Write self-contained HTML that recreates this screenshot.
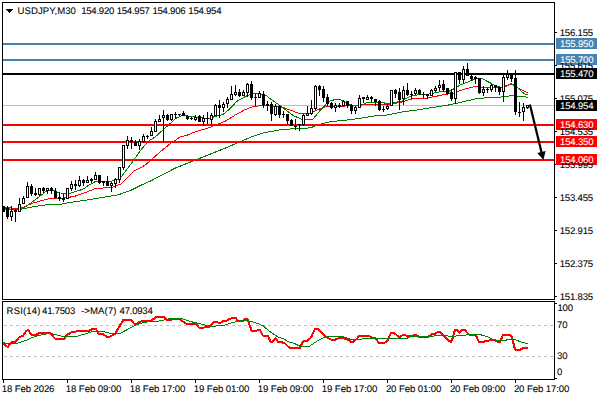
<!DOCTYPE html><html><head><meta charset="utf-8"><title>USDJPY M30</title>
<style>html,body{margin:0;padding:0;background:#fff}body{width:600px;height:400px;overflow:hidden;position:relative}
svg{position:absolute;left:0;top:0;display:block}
text{font-family:"Liberation Sans",Arial,sans-serif;font-size:9.6px;letter-spacing:-0.27px;fill:#000;stroke:#000;stroke-width:0.07px;text-rendering:geometricPrecision}
.w{fill:#fff;stroke:#fff}
</style></head><body>
<svg width="600" height="400" viewBox="0 0 600 400">
<rect width="600" height="400" fill="#fff"/>
<g shape-rendering="crispEdges">
<rect x="3" y="105" width="552" height="1" fill="#c0c0c0"/>
</g>
<g shape-rendering="crispEdges" stroke="#c0c0c0" stroke-width="1" stroke-dasharray="3 3">
<line x1="4" y1="325.5" x2="554" y2="325.5"/>
<line x1="4" y1="356.5" x2="554" y2="356.5"/>
</g>
<g fill="none" stroke-linejoin="round" stroke-linecap="butt" shape-rendering="crispEdges">
<polyline stroke="#008000" stroke-width="1" points="3.50,209.00 15.50,209.50 21.10,209.25 31.75,207.00 45.50,204.90 60.50,204.25 70.50,202.40 85.50,200.20 100.50,197.70 118.00,194.90 130.50,190.50 140.50,185.50 150.50,181.00 175.50,168.00 200.50,158.00 225.50,148.00 250.50,137.30 263.00,133.00 280.50,129.70 293.00,128.80 300.50,128.70 306.50,128.40 311.50,127.40 316.50,125.50 321.50,123.80 329.50,121.80 337.50,121.00 343.00,120.50 355.50,119.00 365.50,117.40 373.00,116.10 385.50,115.25 401.75,112.00 420.50,109.50 433.00,107.40 449.25,104.90 460.50,102.40 476.75,98.60 491.75,97.40 503.00,96.90 506.75,96.10 515.50,95.75 521.75,96.75 525.50,96.75 527.50,98.00"/>
<polyline stroke="#ff0000" stroke-width="1" points="3.50,206.75 8.00,207.40 15.50,209.00 21.10,208.25 25.50,206.10 31.75,203.50 41.75,200.50 50.50,198.50 59.25,198.50 68.00,197.50 75.50,196.00 85.50,192.50 95.50,188.50 111.75,187.40 120.50,184.25 133.00,171.75 145.50,164.90 161.75,150.50 170.50,143.50 180.50,136.75 185.50,135.80 195.50,131.75 208.00,128.00 218.00,124.25 225.50,121.10 235.50,114.90 244.90,109.70 251.75,107.00 259.25,105.75 268.00,105.75 283.00,107.40 298.00,113.00 305.50,113.80 310.50,113.00 318.00,109.50 326.75,106.50 343.00,106.10 358.00,105.50 365.50,104.25 375.50,104.10 389.25,104.50 400.50,102.40 408.00,99.90 414.25,98.60 425.50,98.25 435.50,96.40 445.50,94.40 454.25,93.00 463.00,89.50 473.00,87.00 479.25,86.75 485.50,87.75 494.25,88.00 501.50,87.50 506.50,86.10 511.10,84.25 515.50,86.10 520.50,89.50 524.25,91.10 527.50,92.75"/>
<polyline stroke="#008000" stroke-width="1" points="3.50,208.50 15.50,209.50 21.10,209.00 25.50,206.75 31.75,202.40 39.25,196.75 45.50,191.75 50.50,190.25 55.50,191.10 59.25,193.00 70.50,193.10 83.00,189.25 89.25,184.90 95.50,181.50 111.75,181.10 120.50,178.00 126.50,170.00 133.00,161.10 140.50,150.50 148.00,141.50 155.50,136.75 163.00,129.90 170.50,123.30 175.50,118.50 183.00,115.00 190.50,116.50 199.25,117.40 208.00,119.00 214.25,116.75 223.00,114.50 229.25,109.25 236.75,101.50 246.75,95.80 251.75,93.70 258.50,93.50 265.50,95.10 271.75,99.90 280.50,105.80 293.00,115.50 303.00,119.90 312.40,119.70 319.25,111.50 326.75,103.50 330.50,100.80 335.50,99.50 340.50,99.90 348.00,104.25 355.50,106.10 361.75,105.25 366.75,102.75 371.75,102.50 380.50,101.90 388.00,104.00 395.50,102.40 401.75,101.10 408.00,97.40 413.00,95.50 420.50,94.50 428.00,94.25 435.50,92.80 440.50,91.75 449.25,91.10 454.25,88.60 460.50,84.90 468.00,82.00 475.50,78.60 481.10,78.00 488.00,81.75 495.50,85.70 501.75,87.40 506.75,85.50 511.10,83.60 515.50,85.50 520.50,90.50 524.25,93.60 527.50,94.90"/>
</g>
<g shape-rendering="crispEdges">
<rect x="3" y="43" width="552" height="2" fill="#4682b4"/>
<rect x="3" y="59" width="552" height="2" fill="#4682b4"/>
<rect x="3" y="73" width="552" height="2" fill="#000"/>
<rect x="3" y="124" width="552" height="2" fill="#ff0000"/>
<rect x="3" y="141" width="552" height="2" fill="#ff0000"/>
<rect x="3" y="159" width="552" height="2" fill="#ff0000"/>
</g>
<g shape-rendering="crispEdges">
<rect x="3" y="206" width="1" height="6" fill="#000"/>
<rect x="2" y="206" width="3" height="6" fill="#000"/>
<rect x="7" y="206" width="1" height="13" fill="#000"/>
<rect x="6" y="208" width="3" height="9" fill="#000"/>
<rect x="11" y="206" width="1" height="15" fill="#000"/>
<rect x="10" y="211" width="3" height="6" fill="#000"/>
<rect x="11" y="212" width="1" height="4" fill="#fff"/>
<rect x="15" y="209" width="1" height="13" fill="#000"/>
<rect x="14" y="210" width="3" height="2" fill="#000"/>
<rect x="19" y="198" width="1" height="14" fill="#000"/>
<rect x="18" y="204" width="3" height="8" fill="#000"/>
<rect x="19" y="205" width="1" height="6" fill="#fff"/>
<rect x="23" y="196" width="1" height="8" fill="#000"/>
<rect x="22" y="198" width="3" height="6" fill="#000"/>
<rect x="23" y="199" width="1" height="4" fill="#fff"/>
<rect x="27" y="182" width="1" height="16" fill="#000"/>
<rect x="26" y="186" width="3" height="12" fill="#000"/>
<rect x="27" y="187" width="1" height="10" fill="#fff"/>
<rect x="31" y="184" width="1" height="12" fill="#000"/>
<rect x="30" y="186" width="3" height="8" fill="#000"/>
<rect x="35" y="188" width="1" height="8" fill="#000"/>
<rect x="34" y="193" width="3" height="2" fill="#000"/>
<rect x="39" y="188" width="1" height="8" fill="#000"/>
<rect x="38" y="188" width="3" height="7" fill="#000"/>
<rect x="39" y="189" width="1" height="5" fill="#fff"/>
<rect x="43" y="187" width="1" height="6" fill="#000"/>
<rect x="42" y="188" width="3" height="3" fill="#000"/>
<rect x="47" y="188" width="1" height="6" fill="#000"/>
<rect x="46" y="188" width="3" height="3" fill="#000"/>
<rect x="47" y="189" width="1" height="1" fill="#fff"/>
<rect x="51" y="187" width="1" height="7" fill="#000"/>
<rect x="50" y="188" width="3" height="3" fill="#000"/>
<rect x="55" y="188" width="1" height="10" fill="#000"/>
<rect x="54" y="191" width="3" height="7" fill="#000"/>
<rect x="59" y="192" width="1" height="9" fill="#000"/>
<rect x="58" y="197" width="3" height="2" fill="#000"/>
<rect x="63" y="194" width="1" height="8" fill="#000"/>
<rect x="62" y="198" width="3" height="2" fill="#000"/>
<rect x="67" y="188" width="1" height="11" fill="#000"/>
<rect x="66" y="188" width="3" height="11" fill="#000"/>
<rect x="67" y="189" width="1" height="9" fill="#fff"/>
<rect x="71" y="181" width="1" height="10" fill="#000"/>
<rect x="70" y="184" width="3" height="5" fill="#000"/>
<rect x="71" y="185" width="1" height="3" fill="#fff"/>
<rect x="75" y="180" width="1" height="10" fill="#000"/>
<rect x="74" y="184" width="3" height="2" fill="#000"/>
<rect x="79" y="176" width="1" height="11" fill="#000"/>
<rect x="78" y="180" width="3" height="6" fill="#000"/>
<rect x="79" y="181" width="1" height="4" fill="#fff"/>
<rect x="83" y="179" width="1" height="7" fill="#000"/>
<rect x="82" y="180" width="3" height="3" fill="#000"/>
<rect x="87" y="176" width="1" height="7" fill="#000"/>
<rect x="86" y="180" width="3" height="3" fill="#000"/>
<rect x="87" y="181" width="1" height="1" fill="#fff"/>
<rect x="91" y="178" width="1" height="5" fill="#000"/>
<rect x="90" y="179" width="3" height="2" fill="#000"/>
<rect x="95" y="172" width="1" height="8" fill="#000"/>
<rect x="94" y="175" width="3" height="5" fill="#000"/>
<rect x="95" y="176" width="1" height="3" fill="#fff"/>
<rect x="99" y="175" width="1" height="9" fill="#000"/>
<rect x="98" y="175" width="3" height="8" fill="#000"/>
<rect x="103" y="181" width="1" height="5" fill="#000"/>
<rect x="102" y="181" width="3" height="2" fill="#000"/>
<rect x="107" y="176" width="1" height="10" fill="#000"/>
<rect x="106" y="181" width="3" height="5" fill="#000"/>
<rect x="111" y="182" width="1" height="10" fill="#000"/>
<rect x="110" y="183" width="3" height="3" fill="#000"/>
<rect x="111" y="184" width="1" height="1" fill="#fff"/>
<rect x="115" y="178" width="1" height="10" fill="#000"/>
<rect x="114" y="179" width="3" height="5" fill="#000"/>
<rect x="115" y="180" width="1" height="3" fill="#fff"/>
<rect x="119" y="167" width="1" height="16" fill="#000"/>
<rect x="118" y="167" width="3" height="13" fill="#000"/>
<rect x="119" y="168" width="1" height="11" fill="#fff"/>
<rect x="123" y="145" width="1" height="25" fill="#000"/>
<rect x="122" y="145" width="3" height="23" fill="#000"/>
<rect x="123" y="146" width="1" height="21" fill="#fff"/>
<rect x="127" y="136" width="1" height="13" fill="#000"/>
<rect x="126" y="140" width="3" height="6" fill="#000"/>
<rect x="127" y="141" width="1" height="4" fill="#fff"/>
<rect x="131" y="137" width="1" height="12" fill="#000"/>
<rect x="130" y="140" width="3" height="2" fill="#000"/>
<rect x="135" y="140" width="1" height="6" fill="#000"/>
<rect x="134" y="142" width="3" height="4" fill="#000"/>
<rect x="139" y="139" width="1" height="11" fill="#000"/>
<rect x="138" y="141" width="3" height="5" fill="#000"/>
<rect x="139" y="142" width="1" height="3" fill="#fff"/>
<rect x="143" y="134" width="1" height="9" fill="#000"/>
<rect x="142" y="136" width="3" height="6" fill="#000"/>
<rect x="143" y="137" width="1" height="4" fill="#fff"/>
<rect x="147" y="135" width="1" height="4" fill="#000"/>
<rect x="146" y="136" width="3" height="1" fill="#000"/>
<rect x="151" y="127" width="1" height="9" fill="#000"/>
<rect x="150" y="131" width="3" height="5" fill="#000"/>
<rect x="151" y="132" width="1" height="3" fill="#fff"/>
<rect x="155" y="119" width="1" height="13" fill="#000"/>
<rect x="154" y="121" width="3" height="11" fill="#000"/>
<rect x="155" y="122" width="1" height="9" fill="#fff"/>
<rect x="159" y="115" width="1" height="7" fill="#000"/>
<rect x="158" y="119" width="3" height="3" fill="#000"/>
<rect x="159" y="120" width="1" height="1" fill="#fff"/>
<rect x="163" y="110" width="1" height="32" fill="#000"/>
<rect x="162" y="115" width="3" height="3" fill="#000"/>
<rect x="163" y="116" width="1" height="1" fill="#fff"/>
<rect x="167" y="114" width="1" height="7" fill="#000"/>
<rect x="166" y="115" width="3" height="5" fill="#000"/>
<rect x="171" y="114" width="1" height="7" fill="#000"/>
<rect x="170" y="114" width="3" height="6" fill="#000"/>
<rect x="171" y="115" width="1" height="4" fill="#fff"/>
<rect x="175" y="112" width="1" height="7" fill="#000"/>
<rect x="174" y="114" width="3" height="1" fill="#000"/>
<rect x="179" y="114" width="1" height="2" fill="#000"/>
<rect x="178" y="114" width="3" height="1" fill="#000"/>
<rect x="183" y="111" width="1" height="5" fill="#000"/>
<rect x="182" y="113" width="3" height="3" fill="#000"/>
<rect x="187" y="115" width="1" height="5" fill="#000"/>
<rect x="186" y="116" width="3" height="3" fill="#000"/>
<rect x="191" y="117" width="1" height="3" fill="#000"/>
<rect x="190" y="118" width="3" height="1" fill="#000"/>
<rect x="195" y="115" width="1" height="6" fill="#000"/>
<rect x="194" y="117" width="3" height="3" fill="#000"/>
<rect x="195" y="118" width="1" height="1" fill="#fff"/>
<rect x="199" y="115" width="1" height="7" fill="#000"/>
<rect x="198" y="116" width="3" height="6" fill="#000"/>
<rect x="203" y="115" width="1" height="11" fill="#000"/>
<rect x="202" y="118" width="3" height="4" fill="#000"/>
<rect x="203" y="119" width="1" height="2" fill="#fff"/>
<rect x="207" y="112" width="1" height="12" fill="#000"/>
<rect x="206" y="118" width="3" height="1" fill="#000"/>
<rect x="211" y="113" width="1" height="11" fill="#000"/>
<rect x="210" y="115" width="3" height="5" fill="#000"/>
<rect x="211" y="116" width="1" height="3" fill="#fff"/>
<rect x="215" y="104" width="1" height="12" fill="#000"/>
<rect x="214" y="105" width="3" height="11" fill="#000"/>
<rect x="215" y="106" width="1" height="9" fill="#fff"/>
<rect x="219" y="100" width="1" height="18" fill="#000"/>
<rect x="218" y="105" width="3" height="3" fill="#000"/>
<rect x="223" y="102" width="1" height="10" fill="#000"/>
<rect x="222" y="104" width="3" height="4" fill="#000"/>
<rect x="223" y="105" width="1" height="2" fill="#fff"/>
<rect x="227" y="97" width="1" height="11" fill="#000"/>
<rect x="226" y="99" width="3" height="5" fill="#000"/>
<rect x="227" y="100" width="1" height="3" fill="#fff"/>
<rect x="231" y="86" width="1" height="14" fill="#000"/>
<rect x="230" y="94" width="3" height="6" fill="#000"/>
<rect x="231" y="95" width="1" height="4" fill="#fff"/>
<rect x="235" y="85" width="1" height="11" fill="#000"/>
<rect x="234" y="92" width="3" height="3" fill="#000"/>
<rect x="235" y="93" width="1" height="1" fill="#fff"/>
<rect x="239" y="89" width="1" height="8" fill="#000"/>
<rect x="238" y="92" width="3" height="4" fill="#000"/>
<rect x="243" y="90" width="1" height="6" fill="#000"/>
<rect x="242" y="92" width="3" height="4" fill="#000"/>
<rect x="243" y="93" width="1" height="2" fill="#fff"/>
<rect x="247" y="83" width="1" height="14" fill="#000"/>
<rect x="246" y="84" width="3" height="9" fill="#000"/>
<rect x="247" y="85" width="1" height="7" fill="#fff"/>
<rect x="251" y="81" width="1" height="19" fill="#000"/>
<rect x="250" y="84" width="3" height="14" fill="#000"/>
<rect x="255" y="94" width="1" height="12" fill="#000"/>
<rect x="254" y="97" width="3" height="1" fill="#000"/>
<rect x="259" y="91" width="1" height="7" fill="#000"/>
<rect x="258" y="93" width="3" height="5" fill="#000"/>
<rect x="259" y="94" width="1" height="3" fill="#fff"/>
<rect x="263" y="91" width="1" height="17" fill="#000"/>
<rect x="262" y="94" width="3" height="11" fill="#000"/>
<rect x="267" y="101" width="1" height="10" fill="#000"/>
<rect x="266" y="104" width="3" height="2" fill="#000"/>
<rect x="271" y="102" width="1" height="19" fill="#000"/>
<rect x="270" y="104" width="3" height="10" fill="#000"/>
<rect x="275" y="104" width="1" height="12" fill="#000"/>
<rect x="274" y="106" width="3" height="9" fill="#000"/>
<rect x="275" y="107" width="1" height="7" fill="#fff"/>
<rect x="279" y="105" width="1" height="13" fill="#000"/>
<rect x="278" y="106" width="3" height="9" fill="#000"/>
<rect x="283" y="111" width="1" height="7" fill="#000"/>
<rect x="282" y="114" width="3" height="1" fill="#000"/>
<rect x="287" y="114" width="1" height="10" fill="#000"/>
<rect x="286" y="114" width="3" height="7" fill="#000"/>
<rect x="291" y="119" width="1" height="7" fill="#000"/>
<rect x="290" y="120" width="3" height="6" fill="#000"/>
<rect x="295" y="119" width="1" height="11" fill="#000"/>
<rect x="294" y="126" width="3" height="1" fill="#000"/>
<rect x="299" y="124" width="1" height="7" fill="#000"/>
<rect x="298" y="124" width="3" height="1" fill="#000"/>
<rect x="303" y="114" width="1" height="12" fill="#000"/>
<rect x="302" y="115" width="3" height="10" fill="#000"/>
<rect x="303" y="116" width="1" height="8" fill="#fff"/>
<rect x="307" y="106" width="1" height="10" fill="#000"/>
<rect x="306" y="113" width="3" height="3" fill="#000"/>
<rect x="307" y="114" width="1" height="1" fill="#fff"/>
<rect x="311" y="100" width="1" height="15" fill="#000"/>
<rect x="310" y="108" width="3" height="6" fill="#000"/>
<rect x="311" y="109" width="1" height="4" fill="#fff"/>
<rect x="315" y="85" width="1" height="25" fill="#000"/>
<rect x="314" y="86" width="3" height="23" fill="#000"/>
<rect x="315" y="87" width="1" height="21" fill="#fff"/>
<rect x="319" y="85" width="1" height="11" fill="#000"/>
<rect x="318" y="86" width="3" height="4" fill="#000"/>
<rect x="323" y="86" width="1" height="16" fill="#000"/>
<rect x="322" y="89" width="3" height="9" fill="#000"/>
<rect x="327" y="94" width="1" height="12" fill="#000"/>
<rect x="326" y="97" width="3" height="7" fill="#000"/>
<rect x="331" y="102" width="1" height="7" fill="#000"/>
<rect x="330" y="103" width="3" height="5" fill="#000"/>
<rect x="335" y="103" width="1" height="9" fill="#000"/>
<rect x="334" y="105" width="3" height="3" fill="#000"/>
<rect x="335" y="106" width="1" height="1" fill="#fff"/>
<rect x="339" y="103" width="1" height="5" fill="#000"/>
<rect x="338" y="105" width="3" height="2" fill="#000"/>
<rect x="343" y="100" width="1" height="6" fill="#000"/>
<rect x="342" y="101" width="3" height="5" fill="#000"/>
<rect x="343" y="102" width="1" height="3" fill="#fff"/>
<rect x="347" y="101" width="1" height="7" fill="#000"/>
<rect x="346" y="101" width="3" height="5" fill="#000"/>
<rect x="351" y="104" width="1" height="10" fill="#000"/>
<rect x="350" y="105" width="3" height="6" fill="#000"/>
<rect x="355" y="106" width="1" height="8" fill="#000"/>
<rect x="354" y="107" width="3" height="4" fill="#000"/>
<rect x="355" y="108" width="1" height="2" fill="#fff"/>
<rect x="359" y="95" width="1" height="13" fill="#000"/>
<rect x="358" y="98" width="3" height="10" fill="#000"/>
<rect x="359" y="99" width="1" height="8" fill="#fff"/>
<rect x="363" y="97" width="1" height="6" fill="#000"/>
<rect x="362" y="97" width="3" height="2" fill="#000"/>
<rect x="367" y="95" width="1" height="5" fill="#000"/>
<rect x="366" y="97" width="3" height="3" fill="#000"/>
<rect x="367" y="98" width="1" height="1" fill="#fff"/>
<rect x="371" y="96" width="1" height="6" fill="#000"/>
<rect x="370" y="97" width="3" height="2" fill="#000"/>
<rect x="375" y="99" width="1" height="7" fill="#000"/>
<rect x="374" y="99" width="3" height="3" fill="#000"/>
<rect x="379" y="100" width="1" height="11" fill="#000"/>
<rect x="378" y="101" width="3" height="9" fill="#000"/>
<rect x="383" y="106" width="1" height="6" fill="#000"/>
<rect x="382" y="109" width="3" height="1" fill="#000"/>
<rect x="387" y="104" width="1" height="6" fill="#000"/>
<rect x="386" y="106" width="3" height="3" fill="#000"/>
<rect x="387" y="107" width="1" height="1" fill="#fff"/>
<rect x="391" y="90" width="1" height="16" fill="#000"/>
<rect x="390" y="90" width="3" height="16" fill="#000"/>
<rect x="391" y="91" width="1" height="14" fill="#fff"/>
<rect x="395" y="89" width="1" height="9" fill="#000"/>
<rect x="394" y="90" width="3" height="4" fill="#000"/>
<rect x="399" y="88" width="1" height="22" fill="#000"/>
<rect x="398" y="92" width="3" height="8" fill="#000"/>
<rect x="403" y="86" width="1" height="19" fill="#000"/>
<rect x="402" y="90" width="3" height="9" fill="#000"/>
<rect x="403" y="91" width="1" height="7" fill="#fff"/>
<rect x="407" y="83" width="1" height="13" fill="#000"/>
<rect x="406" y="90" width="3" height="5" fill="#000"/>
<rect x="411" y="91" width="1" height="8" fill="#000"/>
<rect x="410" y="94" width="3" height="1" fill="#000"/>
<rect x="415" y="88" width="1" height="7" fill="#000"/>
<rect x="414" y="90" width="3" height="4" fill="#000"/>
<rect x="415" y="91" width="1" height="2" fill="#fff"/>
<rect x="419" y="89" width="1" height="6" fill="#000"/>
<rect x="418" y="90" width="3" height="4" fill="#000"/>
<rect x="423" y="92" width="1" height="6" fill="#000"/>
<rect x="422" y="94" width="3" height="1" fill="#000"/>
<rect x="427" y="94" width="1" height="5" fill="#000"/>
<rect x="426" y="94" width="3" height="2" fill="#000"/>
<rect x="431" y="89" width="1" height="7" fill="#000"/>
<rect x="430" y="90" width="3" height="6" fill="#000"/>
<rect x="431" y="91" width="1" height="4" fill="#fff"/>
<rect x="435" y="86" width="1" height="6" fill="#000"/>
<rect x="434" y="88" width="3" height="3" fill="#000"/>
<rect x="435" y="89" width="1" height="1" fill="#fff"/>
<rect x="439" y="80" width="1" height="11" fill="#000"/>
<rect x="438" y="85" width="3" height="3" fill="#000"/>
<rect x="439" y="86" width="1" height="1" fill="#fff"/>
<rect x="443" y="80" width="1" height="12" fill="#000"/>
<rect x="442" y="84" width="3" height="6" fill="#000"/>
<rect x="447" y="88" width="1" height="7" fill="#000"/>
<rect x="446" y="88" width="3" height="6" fill="#000"/>
<rect x="451" y="89" width="1" height="12" fill="#000"/>
<rect x="450" y="92" width="3" height="7" fill="#000"/>
<rect x="455" y="72" width="1" height="32" fill="#000"/>
<rect x="454" y="72" width="3" height="27" fill="#000"/>
<rect x="455" y="73" width="1" height="25" fill="#fff"/>
<rect x="459" y="72" width="1" height="12" fill="#000"/>
<rect x="458" y="72" width="3" height="8" fill="#000"/>
<rect x="463" y="66" width="1" height="18" fill="#000"/>
<rect x="462" y="69" width="3" height="11" fill="#000"/>
<rect x="463" y="70" width="1" height="9" fill="#fff"/>
<rect x="467" y="63" width="1" height="13" fill="#000"/>
<rect x="466" y="69" width="3" height="7" fill="#000"/>
<rect x="471" y="75" width="1" height="6" fill="#000"/>
<rect x="470" y="76" width="3" height="3" fill="#000"/>
<rect x="475" y="76" width="1" height="8" fill="#000"/>
<rect x="474" y="77" width="3" height="2" fill="#000"/>
<rect x="479" y="78" width="1" height="16" fill="#000"/>
<rect x="478" y="78" width="3" height="15" fill="#000"/>
<rect x="483" y="86" width="1" height="10" fill="#000"/>
<rect x="482" y="89" width="3" height="4" fill="#000"/>
<rect x="483" y="90" width="1" height="2" fill="#fff"/>
<rect x="487" y="88" width="1" height="5" fill="#000"/>
<rect x="486" y="89" width="3" height="1" fill="#000"/>
<rect x="491" y="84" width="1" height="8" fill="#000"/>
<rect x="490" y="85" width="3" height="5" fill="#000"/>
<rect x="491" y="86" width="1" height="3" fill="#fff"/>
<rect x="495" y="85" width="1" height="7" fill="#000"/>
<rect x="494" y="85" width="3" height="2" fill="#000"/>
<rect x="499" y="87" width="1" height="8" fill="#000"/>
<rect x="498" y="87" width="3" height="5" fill="#000"/>
<rect x="503" y="75" width="1" height="27" fill="#000"/>
<rect x="502" y="77" width="3" height="15" fill="#000"/>
<rect x="503" y="78" width="1" height="13" fill="#fff"/>
<rect x="507" y="70" width="1" height="10" fill="#000"/>
<rect x="506" y="74" width="3" height="4" fill="#000"/>
<rect x="507" y="75" width="1" height="2" fill="#fff"/>
<rect x="511" y="74" width="1" height="8" fill="#000"/>
<rect x="510" y="75" width="3" height="4" fill="#000"/>
<rect x="515" y="70" width="1" height="45" fill="#000"/>
<rect x="514" y="78" width="3" height="34" fill="#000"/>
<rect x="519" y="102" width="1" height="15" fill="#000"/>
<rect x="518" y="112" width="3" height="1" fill="#000"/>
<rect x="523" y="103" width="1" height="18" fill="#000"/>
<rect x="522" y="107" width="3" height="5" fill="#000"/>
<rect x="523" y="108" width="1" height="3" fill="#fff"/>
<rect x="527" y="105" width="1" height="4" fill="#000"/>
<rect x="526" y="105" width="3" height="3" fill="#000"/>
<rect x="527" y="106" width="1" height="1" fill="#fff"/>
</g>
<line x1="529.90" y1="104.60" x2="541.70" y2="153.00" stroke="#000" stroke-width="2.2"/>
<polygon fill="#000" points="543.40,160.00 537.28,153.05 545.64,151.02"/>
<g fill="none" stroke-linejoin="round" shape-rendering="crispEdges">
<polyline stroke="#ff0000" stroke-width="2" points="3.00,342.60 5.60,345.75 7.75,347.00 10.60,343.25 12.50,342.00 15.60,342.00 18.75,337.60 23.00,335.75 26.25,330.75 28.00,330.00 31.25,334.50 35.60,335.00 39.40,333.00 43.75,333.00 49.40,332.60 55.00,338.50 60.00,338.90 63.75,339.50 67.50,334.50 72.00,332.00 77.00,331.40 78.25,330.50 89.50,330.50 93.25,328.50 95.75,328.50 98.90,333.90 102.60,333.90 107.00,337.00 108.90,337.00 115.00,333.90 123.25,320.00 130.75,320.00 135.00,324.50 140.00,321.75 144.00,321.00 150.90,320.75 156.50,317.00 164.00,317.00 167.00,320.00 171.00,320.00 172.75,319.25 180.25,319.50 186.50,323.90 196.50,324.25 199.00,327.60 203.40,328.00 205.25,326.75 209.60,326.75 214.60,321.75 217.00,321.75 219.00,323.00 221.00,322.60 223.50,320.75 226.60,320.75 229.75,318.90 232.90,317.60 235.40,317.60 237.90,320.75 243.50,320.75 246.00,318.50 247.25,318.90 249.00,323.25 251.60,330.75 256.00,330.75 259.75,329.75 262.90,335.50 267.90,335.75 271.00,342.60 275.40,338.50 278.50,342.25 284.00,342.60 288.50,347.00 290.50,348.00 299.90,348.00 303.00,341.40 307.40,340.75 311.00,337.60 314.90,328.90 318.00,328.90 325.50,336.40 330.50,339.50 334.90,339.75 338.00,338.50 343.00,338.25 347.40,339.25 351.00,341.75 353.60,341.75 356.75,338.90 359.25,336.00 363.00,336.00 368.75,335.75 371.90,337.60 375.00,338.00 378.75,342.60 385.00,342.60 387.50,340.50 391.25,332.60 393.75,332.60 399.40,337.60 403.00,334.75 405.00,334.75 407.50,336.40 412.50,335.75 415.00,334.75 418.75,336.75 428.00,337.00 431.90,334.25 435.00,333.90 437.60,332.00 440.00,332.00 444.50,336.40 450.75,342.25 452.60,338.25 455.00,329.75 456.40,329.75 459.50,332.60 462.60,329.75 464.50,329.75 468.90,334.50 475.75,335.00 478.90,342.00 483.50,342.00 485.60,340.75 488.75,340.75 491.25,339.50 493.75,339.75 497.50,341.75 500.00,341.75 503.00,335.00 510.00,335.00 511.90,337.00 513.75,344.50 515.00,349.50 520.60,349.50 523.75,348.00 527.50,348.00"/>
<polyline stroke="#008000" stroke-width="1" points="3.50,342.50 8.00,343.75 16.75,343.50 25.50,340.50 35.50,336.25 46.75,333.75 53.00,334.00 63.00,336.50 70.50,336.90 77.50,336.25 91.25,331.90 105.00,331.90 111.25,333.75 119.50,333.75 127.50,329.40 135.00,325.50 142.50,322.75 147.50,322.00 157.00,321.50 169.50,318.75 182.00,318.75 192.00,321.90 199.50,323.50 207.00,325.50 212.00,326.50 219.50,325.50 224.00,325.50 231.50,322.75 239.00,321.00 246.50,320.25 254.00,322.25 262.75,325.50 270.25,331.90 277.75,336.90 284.00,339.00 288.50,341.90 293.50,343.10 299.75,346.00 309.75,346.00 317.25,341.00 327.25,336.00 341.00,336.00 351.00,339.40 358.50,339.75 363.00,338.75 405.50,338.75 410.50,336.90 423.00,336.50 430.50,336.50 435.50,335.80 440.00,335.60 446.25,335.60 451.25,336.90 457.50,335.60 470.00,334.75 481.25,334.90 487.50,336.90 493.00,339.40 500.50,341.00 505.50,340.25 511.75,338.75 515.50,339.75 520.50,341.90 527.50,343.75"/>
</g>
<g shape-rendering="crispEdges">
<rect x="2" y="2" width="553" height="1" fill="#000"/>
<rect x="2" y="2" width="1" height="298" fill="#000"/>
<rect x="554" y="2" width="1" height="298" fill="#000"/>
<rect x="2" y="299" width="553" height="1" fill="#000"/>
<rect x="2" y="301" width="553" height="1" fill="#000"/>
<rect x="2" y="301" width="1" height="79" fill="#000"/>
<rect x="554" y="301" width="1" height="79" fill="#000"/>
<rect x="2" y="379" width="553" height="1" fill="#000"/>
<rect x="555" y="32" width="2" height="1" fill="#000"/>
<rect x="555" y="65" width="2" height="1" fill="#000"/>
<rect x="555" y="98" width="2" height="1" fill="#000"/>
<rect x="555" y="131" width="2" height="1" fill="#000"/>
<rect x="555" y="164" width="2" height="1" fill="#000"/>
<rect x="555" y="197" width="2" height="1" fill="#000"/>
<rect x="555" y="230" width="2" height="1" fill="#000"/>
<rect x="555" y="263" width="2" height="1" fill="#000"/>
<rect x="555" y="296" width="2" height="1" fill="#000"/>
<rect x="555" y="303" width="2" height="1" fill="#000"/>
<rect x="555" y="378" width="2" height="1" fill="#000"/>
<rect x="3" y="380" width="1" height="3" fill="#000"/>
<rect x="67" y="380" width="1" height="3" fill="#000"/>
<rect x="131" y="380" width="1" height="3" fill="#000"/>
<rect x="195" y="380" width="1" height="3" fill="#000"/>
<rect x="259" y="380" width="1" height="3" fill="#000"/>
<rect x="323" y="380" width="1" height="3" fill="#000"/>
<rect x="387" y="380" width="1" height="3" fill="#000"/>
<rect x="451" y="380" width="1" height="3" fill="#000"/>
<rect x="515" y="380" width="1" height="3" fill="#000"/>
<polygon points="6,9 13,9 9.5,13" fill="#000"/>
</g>
<rect shape-rendering="crispEdges" x="556" y="38" width="41" height="11" fill="#4682b4"/>
<rect shape-rendering="crispEdges" x="556" y="54" width="41" height="11" fill="#4682b4"/>
<rect shape-rendering="crispEdges" x="556" y="68" width="41" height="11" fill="#000"/>
<rect shape-rendering="crispEdges" x="556" y="100" width="41" height="11" fill="#000"/>
<rect shape-rendering="crispEdges" x="556" y="119" width="41" height="11" fill="#ff0000"/>
<rect shape-rendering="crispEdges" x="556" y="136" width="41" height="11" fill="#ff0000"/>
<rect shape-rendering="crispEdges" x="556" y="154" width="41" height="11" fill="#ff0000"/>
<text x="559.65" y="35.8" style="letter-spacing:-0.200px">156.155</text>
<text x="559.65" y="68.8" style="letter-spacing:-0.200px">155.615</text>
<text x="559.65" y="101.8" style="letter-spacing:-0.200px">155.075</text>
<text x="559.65" y="134.8" style="letter-spacing:-0.200px">154.535</text>
<text x="559.65" y="167.8" style="letter-spacing:-0.200px">153.995</text>
<text x="559.65" y="200.8" style="letter-spacing:-0.200px">153.455</text>
<text x="559.65" y="233.8" style="letter-spacing:-0.200px">152.915</text>
<text x="559.65" y="266.8" style="letter-spacing:-0.200px">152.375</text>
<text x="559.65" y="299.8" style="letter-spacing:-0.200px">151.835</text>
<text class="w" x="560.10" y="47.3" style="letter-spacing:-0.200px">155.950</text>
<text class="w" x="560.10" y="63.3" style="letter-spacing:-0.200px">155.700</text>
<text class="w" x="560.10" y="77.3" style="letter-spacing:-0.200px">155.470</text>
<text class="w" x="560.10" y="109.3" style="letter-spacing:-0.200px">154.954</text>
<text class="w" x="560.10" y="128.3" style="letter-spacing:-0.200px">154.630</text>
<text class="w" x="560.10" y="145.3" style="letter-spacing:-0.200px">154.350</text>
<text class="w" x="560.10" y="163.3" style="letter-spacing:-0.200px">154.060</text>
<text x="557.40" y="311.3" style="letter-spacing:-0.150px">100</text>
<text x="557.10" y="328.3" style="letter-spacing:-0.150px">70</text>
<text x="557.10" y="359.3" style="letter-spacing:-0.150px">30</text>
<text x="557.10" y="375.2" style="letter-spacing:-0.150px">0</text>
<text x="17.51" y="13.9" style="letter-spacing:0.056px">USDJPY,M30</text>
<text x="81.20" y="13.9" style="letter-spacing:-0.250px">154.920</text>
<text x="116.63" y="13.9" style="letter-spacing:-0.250px">154.957</text>
<text x="152.42" y="13.9" style="letter-spacing:-0.250px">154.906</text>
<text x="188.30" y="13.9" style="letter-spacing:-0.250px">154.954</text>
<text x="6.59" y="313.6" style="letter-spacing:0.145px">RSI(14)</text>
<text x="42.10" y="313.6" style="letter-spacing:-0.250px">41.7503</text>
<text x="80.97" y="313.6" style="letter-spacing:0.105px">-&gt;MA(7)</text>
<text x="119.60" y="313.6" style="letter-spacing:-0.250px">47.0934</text>
<text x="1.81" y="391.6" style="letter-spacing:-0.125px">18 Feb 2026</text>
<text x="65.81" y="391.6" style="letter-spacing:-0.090px">18 Feb 09:00</text>
<text x="129.81" y="391.6" style="letter-spacing:-0.090px">18 Feb 17:00</text>
<text x="193.81" y="391.6" style="letter-spacing:-0.090px">19 Feb 01:00</text>
<text x="257.81" y="391.6" style="letter-spacing:-0.090px">19 Feb 09:00</text>
<text x="321.81" y="391.6" style="letter-spacing:-0.090px">19 Feb 17:00</text>
<text x="385.88" y="391.6" style="letter-spacing:-0.090px">20 Feb 01:00</text>
<text x="449.88" y="391.6" style="letter-spacing:-0.090px">20 Feb 09:00</text>
<text x="513.88" y="391.6" style="letter-spacing:-0.090px">20 Feb 17:00</text>
</svg></body></html>
